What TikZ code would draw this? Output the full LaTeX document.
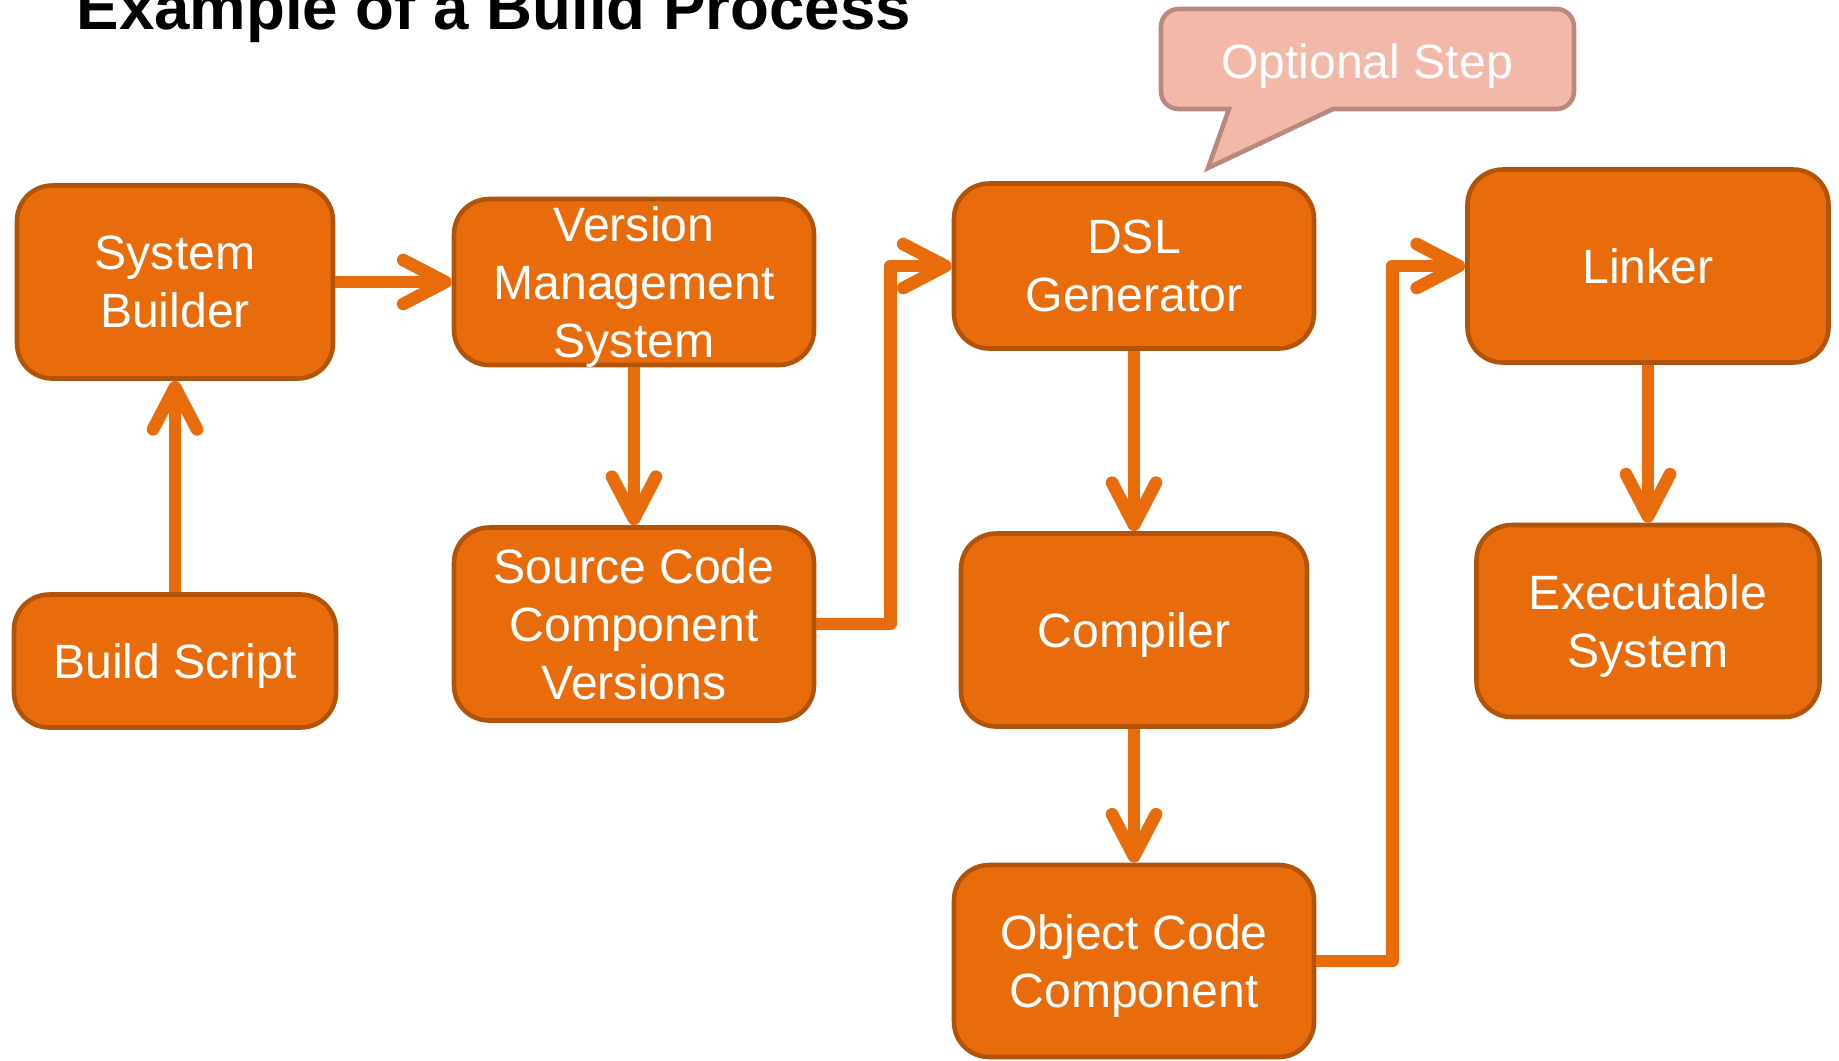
\documentclass[tikz,border=0pt]{standalone}
\usepackage{fontspec}
\setmainfont{Liberation Sans}
\usetikzlibrary{arrows.meta}
\definecolor{boxorange}{RGB}{233,108,12}
\definecolor{boxedge}{RGB}{178,83,10}
\definecolor{noteback}{RGB}{242,184,170}
\definecolor{noteedge}{RGB}{185,137,127}
\tikzset{
  box/.style={draw=boxedge, line width=1.3pt, fill=boxorange, rounded corners=10pt,
    text=white, align=center, inner sep=0pt, text depth=0pt,
    font=\fontsize{13.7pt}{16.5pt}\selectfont},
  flow/.style={draw=boxorange, line width=3.6pt, line join=round,
    -{Straight Barb[length=12pt,width=12.5pt,round]}},
}
\begin{document}
\begin{tikzpicture}[x=0.1mm, y=-0.1mm]
\useasboundingbox (0,0) rectangle (1839,1060);
\node[anchor=base west, inner sep=0pt, font=\fontsize{18.1pt}{20pt}\selectfont\bfseries] (title) at (76,29) {Example of a Build Process};
% callout
\filldraw[fill=noteback, draw=noteedge, line width=1.3pt] (1333,109) [rounded corners=5pt] -- (1574,109) -- (1574,9) -- (1161,9) -- (1161,109) [sharp corners] -- (1229,109) -- (1208,168) -- cycle;
\node[text=white, text depth=0pt, font=\fontsize{13.7pt}{16.5pt}\selectfont] (note) at (1367,61) {Optional Step};
% boxes
\node[box, minimum width=31.6mm, minimum height=19.3mm] (sysb) at (175,282) {System\\Builder};
\node[box, minimum width=32.2mm, minimum height=13.3mm] (script) at (175,661) {Build Script};
\node[box, minimum width=36mm, minimum height=16.6mm] (vms) at (634,282) {Version\\Management\\System};
\node[box, minimum width=36mm, minimum height=19.3mm] (src) at (634,624) {Source Code\\Component\\Versions};
\node[box, minimum width=36mm, minimum height=16.5mm] (dsl) at (1134,266) {DSL\\Generator};
\node[box, minimum width=34.6mm, minimum height=19.3mm] (comp) at (1134,630) {Compiler};
\node[box, minimum width=36mm, minimum height=19.2mm] (obj) at (1134,961) {Object Code\\Component};
\node[box, minimum width=36.1mm, minimum height=19.3mm] (link) at (1648,266) {Linker};
\node[box, minimum width=34.3mm, minimum height=19.2mm] (exe) at (1648,621) {Executable\\System};
% connectors
\draw[flow] (script) -- (sysb);
\draw[flow] (sysb) -- (vms);
\draw[flow] (vms) -- (src);
\draw[flow] (src.east) -- ++(74,0) |- (dsl.west);
\draw[flow] (dsl) -- (comp);
\draw[flow] (comp) -- (obj);
\draw[flow] (obj.east) -- ++(76,0) |- (link.west);
\draw[flow] (link) -- (exe);
\end{tikzpicture}
\end{document}
